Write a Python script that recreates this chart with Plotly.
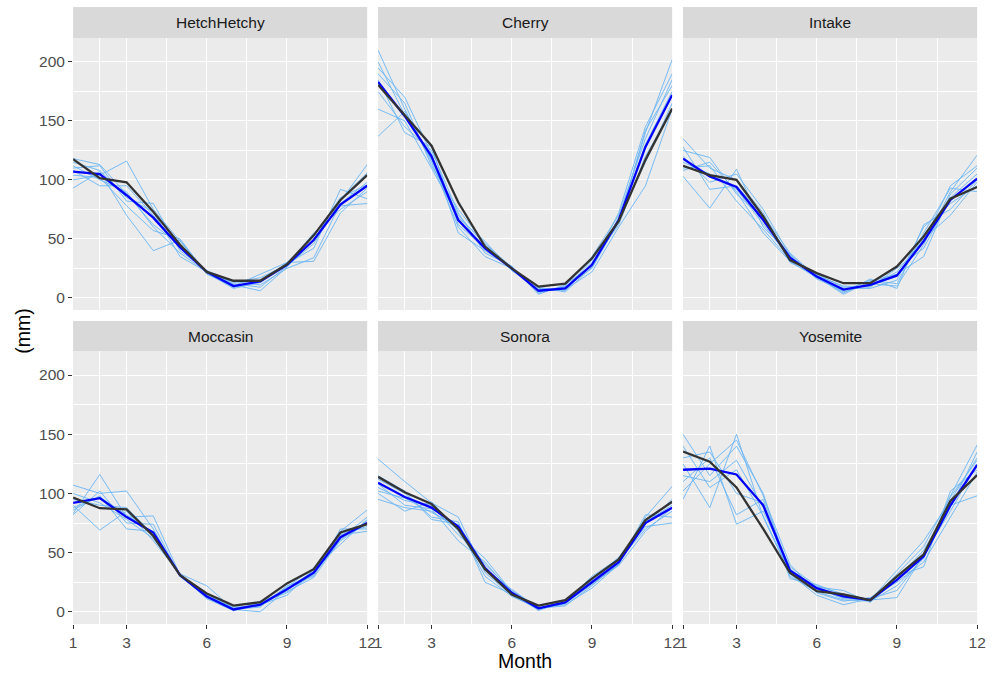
import plotly.graph_objects as go

# Monthly precipitation (mm): observed climatology, simulation ensemble mean,
# and individual simulation members for six stations.
months = list(range(1, 13))
stations = ["HetchHetchy", "Cherry", "Intake", "Moccasin", "Sonora", "Yosemite"]

observed = {
    "HetchHetchy": [117.5, 101.5, 98, 73, 45, 22, 14.5, 14.5, 28.5, 53, 83, 104],
    "Cherry": [180.5, 155, 129, 81, 43.5, 25, 9.5, 12, 33.5, 65, 117, 160.5],
    "Intake": [112, 104, 100, 69, 32, 21, 12.4, 12.4, 26.5, 52, 84, 94],
    "Moccasin": [96.5, 87.5, 86.5, 64, 31, 15.5, 5.3, 8.1, 24, 36, 67, 74],
    "Sonora": [114, 101, 91, 70, 36, 14.7, 5.3, 9.8, 28, 44.3, 77.4, 93],
    "Yosemite": [135.3, 126.8, 105, 70, 33, 17.5, 14.7, 9.8, 30, 48.6, 93.7, 115.5],
}

sim_mean = {
    "HetchHetchy": [107, 105, 87, 68, 43, 22, 10, 14, 28, 49, 79, 95],
    "Cherry": [183, 154, 120, 66, 42, 25, 6, 8, 28, 66, 128, 172],
    "Intake": [118, 103, 94, 66, 34, 18, 7, 11, 19, 48, 83, 101],
    "Moccasin": [92, 96, 80, 67, 31, 13, 2, 6, 19, 33, 63, 75],
    "Sonora": [109, 97, 88, 72, 37, 16, 3, 8, 25, 42, 75, 88],
    "Yosemite": [120, 121, 116, 90, 35, 20, 13, 10, 27, 47, 90, 124],
}

sim_members = {
    "HetchHetchy": [
        [118, 113, 88, 62, 45, 22, 12, 9, 27, 46, 82, 113],
        [100, 104, 116, 75, 48, 21, 9, 15, 29, 42, 92, 84],
        [110, 112, 82, 80, 40, 23, 11, 6, 26, 50, 78, 80],
        [93, 107, 70, 40, 49, 21, 8, 13, 30, 52, 85, 96],
        [112, 100, 90, 60, 38, 22, 13, 17, 28, 55, 75, 90],
        [104, 102, 78, 57, 50, 20, 10, 20, 30, 31, 72, 93],
        [108, 95, 95, 70, 42, 23, 14, 11, 25, 34, 80, 98],
        [115, 108, 85, 73, 35, 22, 9, 14, 27, 49, 84, 106],
    ],
    "Cherry": [
        [210, 160, 115, 60, 35, 25, 5, 9, 25, 65, 140, 202],
        [137, 158, 118, 70, 45, 24, 7, 6, 30, 62, 120, 160],
        [195, 170, 122, 55, 40, 26, 4, 10, 35, 70, 135, 185],
        [160, 150, 110, 68, 48, 23, 8, 7, 22, 60, 95, 160],
        [175, 145, 125, 72, 38, 27, 3, 11, 28, 72, 145, 190],
        [200, 155, 117, 65, 44, 24, 6, 8, 32, 66, 130, 175],
        [185, 140, 128, 62, 42, 25, 9, 5, 26, 68, 115, 165],
        [190, 165, 112, 75, 46, 26, 6, 9, 27, 64, 142, 180],
    ],
    "Intake": [
        [135, 110, 100, 72, 30, 19, 5, 12, 10, 45, 90, 121],
        [103, 76, 109, 60, 37, 17, 8, 8, 15, 60, 80, 95],
        [125, 119, 88, 68, 35, 18, 3, 14, 20, 35, 88, 110],
        [110, 112, 82, 58, 32, 20, 9, 10, 22, 50, 70, 98],
        [120, 98, 105, 75, 36, 16, 6, 15, 12, 55, 93, 90],
        [115, 105, 92, 63, 33, 19, 10, 9, 25, 42, 85, 105],
        [128, 92, 95, 70, 38, 18, 4, 16, 8, 62, 75, 100],
        [108, 115, 90, 55, 31, 17, 7, 11, 18, 48, 95, 112],
    ],
    "Moccasin": [
        [107, 100, 102, 70, 30, 15, 3, 5, 18, 35, 68, 86],
        [83, 116, 80, 81, 31, 12, 1, 8, 16, 32, 60, 75],
        [90, 69, 85, 60, 32, 22, 2, 4, 22, 30, 70, 70],
        [86, 98, 70, 68, 30, 14, 3, 6, 14, 36, 57, 78],
        [95, 90, 88, 65, 31, 11, 1, 7, 20, 34, 65, 68],
        [82, 102, 75, 74, 30, 13, 2, 0, 19, 31, 62, 80],
        [100, 92, 78, 62, 32, 12, 4, 5, 21, 37, 66, 72],
        [88, 97, 82, 66, 30, 15, 1, 9, 17, 29, 61, 77],
    ],
    "Sonora": [
        [129, 110, 92, 80, 33, 14, 2, 7, 23, 40, 80, 106],
        [95, 88, 85, 70, 40, 18, 3, 9, 26, 44, 72, 75],
        [112, 100, 80, 76, 25, 15, 4, 6, 20, 40, 78, 92],
        [105, 94, 90, 65, 45, 17, 1, 10, 28, 43, 70, 85],
        [100, 85, 93, 68, 35, 19, 3, 5, 22, 41, 82, 80],
        [115, 102, 78, 74, 38, 14, 2, 8, 30, 45, 74, 95],
        [108, 90, 87, 60, 42, 16, 5, 9, 24, 39, 68, 88],
        [102, 96, 84, 72, 30, 13, 3, 7, 27, 46, 76, 90],
    ],
    "Yosemite": [
        [150, 115, 140, 100, 30, 17, 10, 9, 22, 45, 98, 141],
        [95, 140, 74, 85, 38, 22, 15, 10, 12, 48, 85, 125],
        [125, 88, 150, 80, 32, 14, 6, 11, 30, 38, 102, 120],
        [110, 130, 82, 95, 36, 21, 18, 8, 28, 52, 90, 98],
        [140, 105, 120, 81, 33, 19, 12, 10, 35, 60, 94, 130],
        [102, 125, 145, 98, 40, 16, 9, 12, 25, 42, 80, 118],
        [130, 135, 100, 92, 28, 23, 14, 9, 32, 55, 97, 128],
        [115, 110, 128, 88, 35, 20, 11, 11, 18, 47, 88, 135],
    ],
}

x_tickvals = [1, 3, 6, 9, 12]
x_minor = [2, 4.5, 7.5, 10.5]
y_tickvals = [0, 50, 100, 150, 200]
y_minor = [25, 75, 125, 175]

W, H = 997, 674
col_px = [(70, 368), (379, 677), (688, 986)]
row_px = [(38, 310), (351, 624)]      # plot area top/bottom in pixels
strip_px = [(7, 38), (321, 351)]      # strip top/bottom in pixels

PANEL_BG = "#EBEBEB"
STRIP_BG = "#D9D9D9"
TICK_COL = "#4D4D4D"
FONT = "Liberation Sans, Arial, sans-serif"

fig = go.Figure()
shapes, annotations = [], []
layout = {}

for i, st in enumerate(stations):
    r, c = divmod(i, 3)
    n = i + 1
    xa = "x" if n == 1 else f"x{n}"
    ya = "y" if n == 1 else f"y{n}"

    for member in sim_members[st]:
        fig.add_trace(go.Scatter(x=months, y=member, mode="lines", xaxis=xa, yaxis=ya,
                                 line=dict(color="#6AB6F5", width=0.9), showlegend=False,
                                 hoverinfo="skip"))
    fig.add_trace(go.Scatter(x=months, y=sim_mean[st], mode="lines", xaxis=xa, yaxis=ya,
                             line=dict(color="#0000FF", width=2.3), showlegend=False))
    fig.add_trace(go.Scatter(x=months, y=observed[st], mode="lines", xaxis=xa, yaxis=ya,
                             line=dict(color="#333333", width=2.3), showlegend=False))

    x0, x1 = col_px[c]
    top, bot = row_px[r]
    xdom = [x0 / W, x1 / W]
    ydom = [1 - bot / H, 1 - top / H]

    bottom_row = r == 1
    left_col = c == 0
    layout[f"xaxis{'' if n == 1 else n}"] = dict(
        domain=xdom, anchor=ya, range=[1, 12], tickmode="array", tickvals=x_tickvals,
        showticklabels=bottom_row, ticks="outside" if bottom_row else "",
        ticklen=4, tickwidth=1.1, tickcolor="#333333",
        tickfont=dict(size=15.5, color=TICK_COL, family=FONT),
        showgrid=True, gridcolor="white", gridwidth=1.2, zeroline=False, showline=False,
        minor=dict(tickmode="array", tickvals=x_minor, showgrid=True,
                   gridcolor="white", gridwidth=0.6, ticks=""),
    )
    layout[f"yaxis{'' if n == 1 else n}"] = dict(
        domain=ydom, anchor=xa, range=[-10.3, 220.3], tickmode="array", tickvals=y_tickvals,
        showticklabels=left_col, ticks="outside" if left_col else "",
        ticklen=4, tickwidth=1.1, tickcolor="#333333",
        tickfont=dict(size=15.5, color=TICK_COL, family=FONT),
        showgrid=True, gridcolor="white", gridwidth=1.2, zeroline=False, showline=False,
        minor=dict(tickmode="array", tickvals=y_minor, showgrid=True,
                   gridcolor="white", gridwidth=0.6, ticks=""),
    )

    # panel background
    shapes.append(dict(type="rect", xref="paper", yref="paper", layer="below",
                       x0=xdom[0], x1=xdom[1], y0=ydom[0], y1=ydom[1],
                       fillcolor=PANEL_BG, line=dict(width=0)))
    # facet strip
    s_top, s_bot = strip_px[r]
    shapes.append(dict(type="rect", xref="paper", yref="paper",
                       x0=xdom[0], x1=xdom[1], y0=1 - s_bot / H, y1=1 - s_top / H,
                       fillcolor=STRIP_BG, line=dict(width=0)))
    annotations.append(dict(text=st, xref="paper", yref="paper", showarrow=False,
                            x=(xdom[0] + xdom[1]) / 2, y=1 - (s_top + s_bot) / 2 / H,
                            xanchor="center", yanchor="middle",
                            font=dict(size=15.5, color="#1A1A1A", family=FONT)))

annotations.append(dict(text="Month", xref="paper", yref="paper", showarrow=False,
                        x=(70 + 986) / 2 / W, y=1 - 661 / H, xanchor="center", yanchor="middle",
                        font=dict(size=19.5, color="black", family=FONT)))
annotations.append(dict(text="(mm)", xref="paper", yref="paper", showarrow=False,
                        x=19 / W, y=1 - (38 + 624) / 2 / H, xanchor="center", yanchor="middle",
                        textangle=-90, font=dict(size=19.5, color="black", family=FONT)))

fig.update_layout(
    width=W, height=H, margin=dict(l=0, r=0, t=0, b=0), autosize=False,
    paper_bgcolor="white", plot_bgcolor="rgba(0,0,0,0)",
    shapes=shapes, annotations=annotations, showlegend=False,
    **layout,
)

# keep the page exactly the size of the figure (no scrollbars, no body margin)
page_css = ("document.documentElement.style.overflow='hidden';"
            "document.body.style.overflow='hidden';"
            "document.body.style.margin='0';")

fig.write_html("out.html", config={"responsive": False}, post_script=page_css)
